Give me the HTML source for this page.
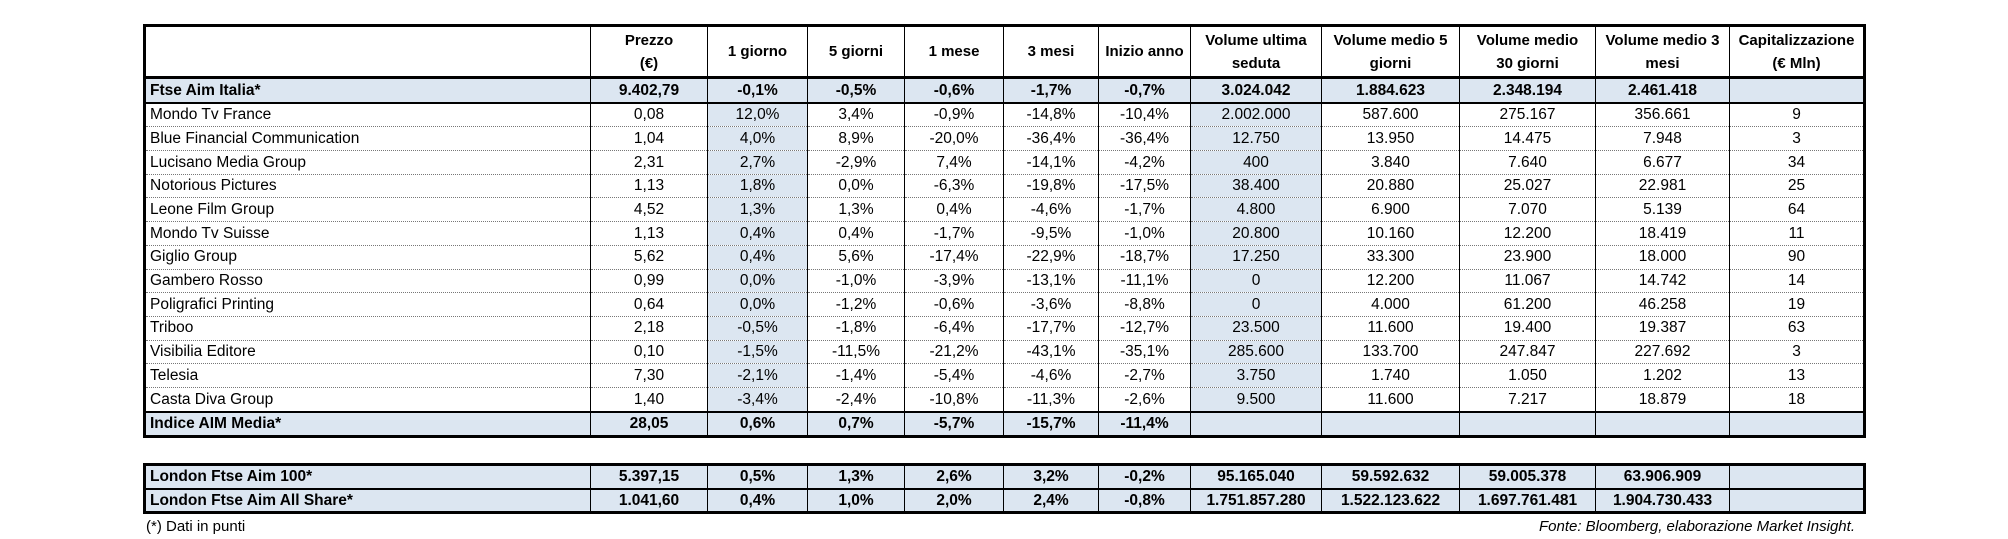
<!DOCTYPE html>
<html><head><meta charset="utf-8"><style>
body{margin:0;width:2008px;height:539px;background:#fff;position:relative;overflow:hidden;font-family:"Liberation Sans",sans-serif;color:#000}
table{position:absolute;left:143px;border-collapse:collapse;table-layout:fixed;font-size:15.5px}
td{border-left:1.5px solid #000;border-right:1.5px solid #000;border-bottom:1px dotted #777;text-align:center;padding:0;white-space:nowrap;overflow:hidden;line-height:1}
td:first-child{text-align:left;padding-left:4px}
.h td{height:49px;font-weight:bold;font-size:15px;line-height:23px;border-bottom:3px solid #000;border-top:3px solid #000}
tr.r td{height:22.7px}
tr.b td{font-weight:bold;background:#dce6f1;border-bottom:2.5px solid #000}
tr.b2 td{font-weight:bold;background:#dce6f1;border-top:2.5px solid #000;border-bottom:3px solid #000}
td.s{background:#dce6f1}
table{border:3px solid #000}
.t2 tr td{height:21.5px;font-weight:bold;background:#dce6f1;border-bottom:2.5px solid #000}
.foot{position:absolute;top:518px;font-size:15px}
</style></head><body>
<table style="top:24px">
<colgroup><col style="width:446px"><col style="width:117px"><col style="width:100px"><col style="width:97px"><col style="width:99px"><col style="width:95px"><col style="width:92px"><col style="width:131px"><col style="width:138px"><col style="width:136px"><col style="width:134px"><col style="width:135px"></colgroup>
<tr class="h"><td></td><td>Prezzo<br>(€)</td><td>1 giorno</td><td>5 giorni</td><td>1 mese</td><td>3 mesi</td><td>Inizio anno</td><td>Volume ultima<br>seduta</td><td>Volume medio 5<br>giorni</td><td>Volume medio<br>30 giorni</td><td>Volume medio 3<br>mesi</td><td>Capitalizzazione<br>(€ Mln)</td></tr>
<tr class="r b"><td>Ftse Aim Italia*</td><td>9.402,79</td><td>-0,1%</td><td>-0,5%</td><td>-0,6%</td><td>-1,7%</td><td>-0,7%</td><td>3.024.042</td><td>1.884.623</td><td>2.348.194</td><td>2.461.418</td><td></td></tr>
<tr class="r"><td>Mondo Tv France</td><td>0,08</td><td class="s">12,0%</td><td>3,4%</td><td>-0,9%</td><td>-14,8%</td><td>-10,4%</td><td class="s">2.002.000</td><td>587.600</td><td>275.167</td><td>356.661</td><td>9</td></tr>
<tr class="r"><td>Blue Financial Communication</td><td>1,04</td><td class="s">4,0%</td><td>8,9%</td><td>-20,0%</td><td>-36,4%</td><td>-36,4%</td><td class="s">12.750</td><td>13.950</td><td>14.475</td><td>7.948</td><td>3</td></tr>
<tr class="r"><td>Lucisano Media Group</td><td>2,31</td><td class="s">2,7%</td><td>-2,9%</td><td>7,4%</td><td>-14,1%</td><td>-4,2%</td><td class="s">400</td><td>3.840</td><td>7.640</td><td>6.677</td><td>34</td></tr>
<tr class="r"><td>Notorious Pictures</td><td>1,13</td><td class="s">1,8%</td><td>0,0%</td><td>-6,3%</td><td>-19,8%</td><td>-17,5%</td><td class="s">38.400</td><td>20.880</td><td>25.027</td><td>22.981</td><td>25</td></tr>
<tr class="r"><td>Leone Film Group</td><td>4,52</td><td class="s">1,3%</td><td>1,3%</td><td>0,4%</td><td>-4,6%</td><td>-1,7%</td><td class="s">4.800</td><td>6.900</td><td>7.070</td><td>5.139</td><td>64</td></tr>
<tr class="r"><td>Mondo Tv Suisse</td><td>1,13</td><td class="s">0,4%</td><td>0,4%</td><td>-1,7%</td><td>-9,5%</td><td>-1,0%</td><td class="s">20.800</td><td>10.160</td><td>12.200</td><td>18.419</td><td>11</td></tr>
<tr class="r"><td>Giglio Group</td><td>5,62</td><td class="s">0,4%</td><td>5,6%</td><td>-17,4%</td><td>-22,9%</td><td>-18,7%</td><td class="s">17.250</td><td>33.300</td><td>23.900</td><td>18.000</td><td>90</td></tr>
<tr class="r"><td>Gambero Rosso</td><td>0,99</td><td class="s">0,0%</td><td>-1,0%</td><td>-3,9%</td><td>-13,1%</td><td>-11,1%</td><td class="s">0</td><td>12.200</td><td>11.067</td><td>14.742</td><td>14</td></tr>
<tr class="r"><td>Poligrafici Printing</td><td>0,64</td><td class="s">0,0%</td><td>-1,2%</td><td>-0,6%</td><td>-3,6%</td><td>-8,8%</td><td class="s">0</td><td>4.000</td><td>61.200</td><td>46.258</td><td>19</td></tr>
<tr class="r"><td>Triboo</td><td>2,18</td><td class="s">-0,5%</td><td>-1,8%</td><td>-6,4%</td><td>-17,7%</td><td>-12,7%</td><td class="s">23.500</td><td>11.600</td><td>19.400</td><td>19.387</td><td>63</td></tr>
<tr class="r"><td>Visibilia Editore</td><td>0,10</td><td class="s">-1,5%</td><td>-11,5%</td><td>-21,2%</td><td>-43,1%</td><td>-35,1%</td><td class="s">285.600</td><td>133.700</td><td>247.847</td><td>227.692</td><td>3</td></tr>
<tr class="r"><td>Telesia</td><td>7,30</td><td class="s">-2,1%</td><td>-1,4%</td><td>-5,4%</td><td>-4,6%</td><td>-2,7%</td><td class="s">3.750</td><td>1.740</td><td>1.050</td><td>1.202</td><td>13</td></tr>
<tr class="r"><td>Casta Diva Group</td><td>1,40</td><td class="s">-3,4%</td><td>-2,4%</td><td>-10,8%</td><td>-11,3%</td><td>-2,6%</td><td class="s">9.500</td><td>11.600</td><td>7.217</td><td>18.879</td><td>18</td></tr>
<tr class="r b2"><td>Indice AIM Media*</td><td>28,05</td><td>0,6%</td><td>0,7%</td><td>-5,7%</td><td>-15,7%</td><td>-11,4%</td><td></td><td></td><td></td><td></td><td></td></tr>
</table>
<table class="t2" style="top:463px">
<colgroup><col style="width:446px"><col style="width:117px"><col style="width:100px"><col style="width:97px"><col style="width:99px"><col style="width:95px"><col style="width:92px"><col style="width:131px"><col style="width:138px"><col style="width:136px"><col style="width:134px"><col style="width:135px"></colgroup>
<tr><td>London Ftse Aim 100*</td><td>5.397,15</td><td>0,5%</td><td>1,3%</td><td>2,6%</td><td>3,2%</td><td>-0,2%</td><td>95.165.040</td><td>59.592.632</td><td>59.005.378</td><td>63.906.909</td><td></td></tr>
<tr><td>London Ftse Aim All Share*</td><td>1.041,60</td><td>0,4%</td><td>1,0%</td><td>2,0%</td><td>2,4%</td><td>-0,8%</td><td>1.751.857.280</td><td>1.522.123.622</td><td>1.697.761.481</td><td>1.904.730.433</td><td></td></tr>
</table>
<div class="foot" style="left:146px">(*) Dati in punti</div>
<div class="foot" style="right:153px;font-style:italic">Fonte: Bloomberg, elaborazione Market Insight.</div>
</body></html>
